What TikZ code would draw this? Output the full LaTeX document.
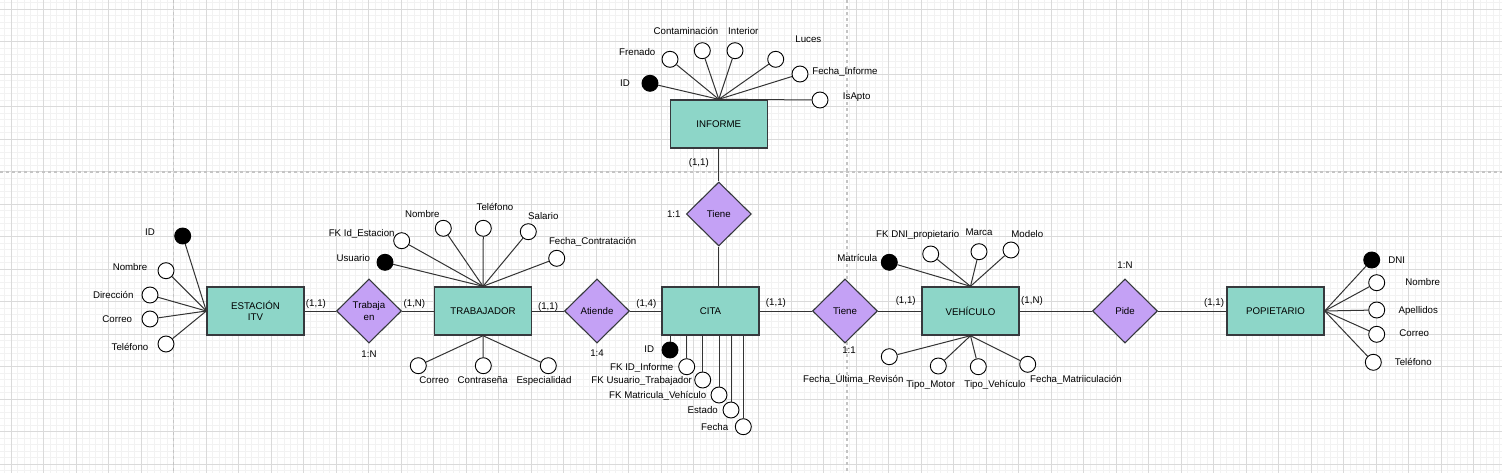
\documentclass[tikz,border=0pt]{standalone}
\usepackage{fontspec}
\setmainfont{Liberation Sans}
\usetikzlibrary{shapes.geometric}
\definecolor{verdeEnt}{RGB}{141,214,200}
\definecolor{lilaRel}{RGB}{196,161,245}
\definecolor{bordeOsc}{RGB}{54,57,61}
\definecolor{conector}{RGB}{51,51,51}
\definecolor{rejilla}{RGB}{218,218,218}
\definecolor{rejillaFina}{RGB}{242,242,242}
\definecolor{pagina}{RGB}{196,196,196}
\tikzstyle{entidad} = [draw=bordeOsc, fill=verdeEnt, rectangle, line width=1.4pt, minimum width=97pt, minimum height=48pt, align=center]
\tikzstyle{relacion} = [draw=bordeOsc, fill=lilaRel, diamond, aspect=1, inner sep=0pt, line width=1.1pt, minimum width=65pt, minimum height=64pt, align=center]
\tikzstyle{atrib} = [draw, fill=white, circle, minimum size=16pt, inner sep=0pt, line width=0.9pt]
\tikzstyle{clave} = [atrib, fill=black]
\tikzstyle{texto} = [inner sep=0pt, text height=7pt, text depth=0pt]
\tikzstyle{card} = [texto]
\tikzstyle{corte} = [pagina, line width=1.2pt, dash pattern=on 3pt off 3pt]

\begin{document}
\begin{tikzpicture}[x=1pt, y=-1pt, node distance=114pt, line width=1pt, font=\fontsize{9.7}{11.5}\selectfont, every edge/.style={draw=conector, line width=1pt}]
    \path[use as bounding box, fill=white] (0,0) rectangle (1502,473);
    \begin{scope}[xshift=11pt, yshift=-9pt]
      \draw[rejillaFina, line width=0.7pt, step=6.5pt] (-11,-9) grid (1491,464);
      \draw[rejilla, line width=0.8pt, step=32.5pt] (-11,-9) grid (1491,464);
    \end{scope}
    \draw[corte] (173.5,0) -- (173.5,473) (847,0) -- (847,473) (0,172) -- (1502,172);

    \path node[entidad] (estacion) at (255.5,311) {ESTACIÓN\\ITV}
    node[relacion, node distance=113.5pt, right of=estacion] (trabaja) {Trabaja\\en}
    node[entidad, right of=trabaja] (trabajador) {TRABAJADOR}
    node[relacion, right of=trabajador] (atiende) {Atiende}
    node[entidad, node distance=113.5pt, right of=atiende] (cita) {CITA}
    node[relacion, node distance=134.5pt, right of=cita] (tieneveh) {Tiene}
    node[entidad, node distance=125.5pt, right of=tieneveh] (vehiculo) {VEHÍCULO}
    node[relacion, node distance=154.5pt, right of=vehiculo] (pide) {Pide}
    node[entidad, node distance=150.5pt, right of=pide] (propietario) {POPIETARIO}
    node[relacion] (tieneinf) at (718.8,214) {Tiene}
    node[entidad, node distance=90pt, above of=tieneinf] (informe) {INFORME}

    node[card, node distance=43pt, below of=trabaja] (r_trabaja) {1:N}
    node[card, node distance=41.5pt, below of=atiende] (r_atiende) {1:4}
    node[card, node distance=39pt, below of=tieneveh, xshift=4pt] (r_tieneveh) {1:1}
    node[card, node distance=46pt, above of=pide] (r_pide) {1:N}
    node[card, node distance=45pt, left of=tieneinf] (r_tieneinf) {1:1};

    \path (estacion) edge node[card, pos=0.36, yshift=8pt] (c_est) {(1,1)} (trabaja)
     (trabaja) edge node[card, pos=0.39, yshift=8pt] (c_trab1) {(1,N)} (trabajador)
     (trabajador) edge node[card, pos=0.5, yshift=5pt] (c_trab2) {(1,1)} (atiende)
     (atiende) edge node[card, pos=0.52, yshift=8pt] (c_cita1) {(1,4)} (cita)
     (cita) edge node[card, pos=0.31, yshift=9pt] (c_cita2) {(1,1)} (tieneveh)
     (tieneveh) edge node[card, pos=0.64, yshift=11.5pt] (c_veh1) {(1,1)} (vehiculo)
     (vehiculo) edge node[card, pos=0.17, yshift=11.5pt] (c_veh2) {(1,N)} (pide)
     (pide) edge node[card, pos=0.82, yshift=9pt] (c_pro) {(1,1)} (propietario)
     (informe) edge node[card, pos=0.4, xshift=-20pt] (c_inf) {(1,1)} (tieneinf)
     (tieneinf) edge (tieneinf |- cita.north);

    % estacion
    \path node[clave] (est_id) at (182.7,236) {}
    node[atrib] (est_nombre) at (166,270.7) {}
    node[atrib] (est_dir) at (150,295) {}
    node[atrib] (est_correo) at (150,319) {}
    node[atrib] (est_tel) at (166,344) {}
    node[texto] (t_est_id) at (150,231.7) {ID}
    node[texto] (t_est_nombre) at (130,266.7) {Nombre}
    node[texto] (t_est_dir) at (113.3,295) {Dirección}
    node[texto] (t_est_correo) at (117.3,319) {Correo}
    node[texto] (t_est_tel) at (130,347) {Teléfono}
     (est_id) edge (estacion.west)
     (est_nombre) edge (estacion.west)
     (est_dir) edge (estacion.west)
     (est_correo) edge (estacion.west)
     (est_tel) edge (estacion.west);

    % trabajador
    \path node[clave] (tb_usuario) at (385,262.3) {}
    node[atrib] (tb_fk) at (401.7,240.7) {}
    node[atrib] (tb_nombre) at (443.3,228.3) {}
    node[atrib] (tb_tel) at (483.3,228.3) {}
    node[atrib] (tb_salario) at (528.3,231.7) {}
    node[atrib] (tb_fecha) at (556.7,258.3) {}
    node[atrib] (tb_correo) at (418.3,365.7) {}
    node[atrib] (tb_pass) at (483.3,365.7) {}
    node[atrib] (tb_esp) at (548.3,365.7) {}
    node[texto] (t_tb_usuario) at (353.3,258.3) {Usuario}
    node[texto] (t_tb_fk) at (361.7,233.3) {FK Id\_Estacion}
    node[texto] (t_tb_nombre) at (422.3,214) {Nombre}
    node[texto] (t_tb_tel) at (495,207.3) {Teléfono}
    node[texto] (t_tb_salario) at (543.3,215.7) {Salario}
    node[texto] (t_tb_fecha) at (592.7,240.7) {Fecha\_Contratación}
    node[texto] (t_tb_correo) at (434.3,380) {Correo}
    node[texto] (t_tb_pass) at (482.7,380) {Contraseña}
    node[texto] (t_tb_esp) at (544,380) {Especialidad}
     (tb_usuario) edge (trabajador.north)
     (tb_fk) edge (trabajador.north)
     (tb_nombre) edge (trabajador.north)
     (tb_tel) edge (trabajador.north)
     (tb_salario) edge (trabajador.north)
     (tb_fecha) edge (trabajador.north)
     (tb_correo) edge (trabajador.south)
     (tb_pass) edge (trabajador.south)
     (tb_esp) edge (trabajador.south);

    % informe
    \path node[clave] (inf_id) at (650,83.3) {}
    node[atrib] (inf_fren) at (670,59.3) {}
    node[atrib] (inf_cont) at (702.3,50.7) {}
    node[atrib] (inf_int) at (735,50.7) {}
    node[atrib] (inf_luces) at (775.7,59.3) {}
    node[atrib] (inf_fecha) at (800,74) {}
    node[atrib] (inf_apto) at (820,100) {}
    node[texto] (t_inf_id) at (625,83.3) {ID}
    node[texto] (t_inf_fren) at (637.3,51.7) {Frenado}
    node[texto] (t_inf_cont) at (686,30.7) {Contaminación}
    node[texto] (t_inf_int) at (743.3,30.7) {Interior}
    node[texto] (t_inf_luces) at (808.3,39) {Luces}
    node[texto] (t_inf_fecha) at (845,70.7) {Fecha\_Informe}
    node[texto] (t_inf_apto) at (856.7,96) {IsApto}
     (inf_id) edge (informe.north)
     (inf_fren) edge (informe.north)
     (inf_cont) edge (informe.north)
     (inf_int) edge (informe.north)
     (inf_luces) edge (informe.north)
     (inf_fecha) edge (informe.north)
     (inf_apto) edge (informe.north);

    % cita
    \path node[clave] (cita_id) at (670,350) {}
    node[atrib] (cita_inf) at (686.7,366.7) {}
    node[atrib] (cita_trab) at (702.7,380) {}
    node[atrib] (cita_veh) at (719,395) {}
    node[atrib] (cita_estado) at (731,410) {}
    node[atrib] (cita_fecha) at (743.3,426.7) {}
    node[texto] (t_cita_id) at (649.3,349) {ID}
    node[texto] (t_cita_inf) at (641.7,366.7) {FK ID\_Informe}
    node[texto] (t_cita_trab) at (641.7,380) {FK Usuario\_Trabajador}
    node[texto] (t_cita_veh) at (657.7,395) {FK Matricula\_Vehículo}
    node[texto] (t_cita_estado) at (702.7,410) {Estado}
    node[texto] (t_cita_fecha) at (714.7,426.7) {Fecha}
     (cita_id) edge (cita_id |- cita.south)
     (cita_inf) edge (cita_inf |- cita.south)
     (cita_trab) edge (cita_trab |- cita.south)
     (cita_veh) edge (cita_veh |- cita.south)
     (cita_estado) edge (cita_estado |- cita.south)
     (cita_fecha) edge (cita_fecha |- cita.south);

    % vehiculo
    \path node[clave] (veh_mat) at (889.3,262.3) {}
    node[atrib] (veh_fk) at (930.7,254) {}
    node[atrib] (veh_marca) at (979,251.7) {}
    node[atrib] (veh_modelo) at (1011,250) {}
    node[atrib] (veh_rev) at (889.3,356.7) {}
    node[atrib] (veh_motor) at (938.3,366) {}
    node[atrib] (veh_tipo) at (978.3,366.7) {}
    node[atrib] (veh_matr) at (1027.7,364.3) {}
    node[texto] (t_veh_mat) at (857.3,257.7) {Matrícula}
    node[texto] (t_veh_fk) at (917.7,234) {FK DNI\_propietario}
    node[texto] (t_veh_marca) at (979,231.7) {Marca}
    node[texto] (t_veh_modelo) at (1027.3,234) {Modelo}
    node[texto] (t_veh_rev) at (853.3,379.3) {Fecha\_Última\_Revisón}
    node[texto] (t_veh_motor) at (930.7,384.3) {Tipo\_Motor}
    node[texto] (t_veh_tipo) at (995,384.3) {Tipo\_Vehículo}
    node[texto] (t_veh_matr) at (1076,379.3) {Fecha\_Matriiculación}
     (veh_mat) edge (vehiculo.north)
     (veh_fk) edge (vehiculo.north)
     (veh_marca) edge (vehiculo.north)
     (veh_modelo) edge (vehiculo.north)
     (veh_rev) edge (vehiculo.south)
     (veh_motor) edge (vehiculo.south)
     (veh_tipo) edge (vehiculo.south)
     (veh_matr) edge (vehiculo.south);

    % propietario
    \path node[clave] (pro_dni) at (1371.7,260) {}
    node[atrib] (pro_nombre) at (1376.7,282.7) {}
    node[atrib] (pro_ape) at (1376.7,310) {}
    node[atrib] (pro_correo) at (1376.7,334.3) {}
    node[atrib] (pro_tel) at (1373.3,362.3) {}
    node[texto] (t_pro_dni) at (1396.7,260) {DNI}
    node[texto] (t_pro_nombre) at (1422.7,281.7) {Nombre}
    node[texto] (t_pro_ape) at (1418.3,310) {Apellidos}
    node[texto] (t_pro_correo) at (1414.3,333.3) {Correo}
    node[texto] (t_pro_tel) at (1413.3,361.7) {Teléfono}
     (pro_dni) edge (propietario.east)
     (pro_nombre) edge (propietario.east)
     (pro_ape) edge (propietario.east)
     (pro_correo) edge (propietario.east)
     (pro_tel) edge (propietario.east);
\end{tikzpicture}
\end{document}
